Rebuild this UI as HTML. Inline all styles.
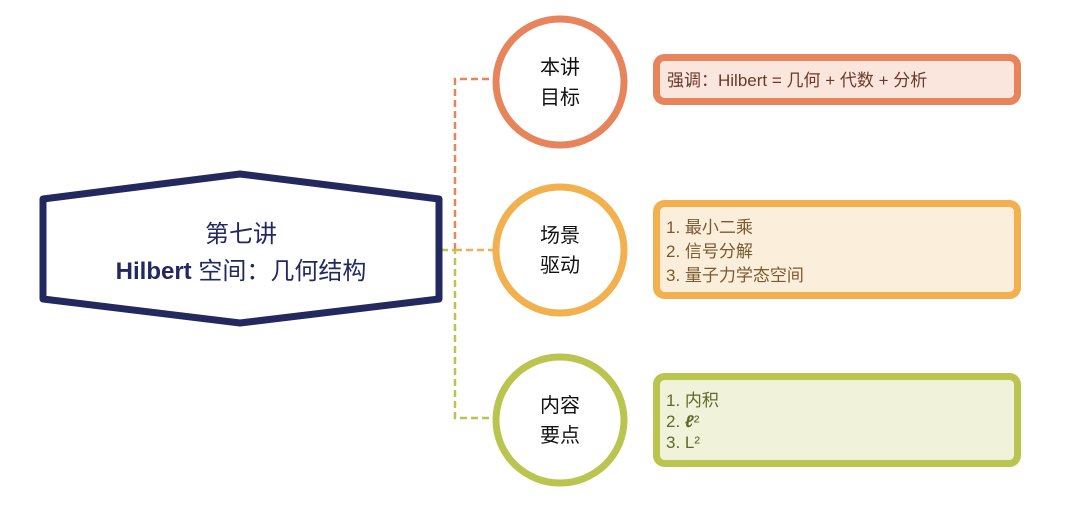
<!DOCTYPE html>
<html><head><meta charset="utf-8"><style>
body{margin:0;width:1080px;height:502px;background:#fff;overflow:hidden}
svg text{font-family:"Liberation Sans","Noto Sans CJK SC",sans-serif}
</style></head><body>
<svg width="1080" height="502" viewBox="0 0 1080 502">
<g fill="none" stroke-width="2.5" stroke-dasharray="7,4">
<path d="M455 250 V79 H494" stroke="#e8845c"/>
<path d="M455 250 H494" stroke="#f2b04e"/>
<path d="M441 250 H455 V418 H494" stroke="#b9c54f"/>
</g>
<polygon points="43,199 240,174 439,199 439,299 240,323 43,299" fill="#fff" stroke="#23285f" stroke-width="7" stroke-linejoin="round"/>
<text x="241" y="242" text-anchor="middle" font-size="24" fill="#23285f">第七讲</text>
<text x="241" y="279" text-anchor="middle" font-size="24" fill="#23285f"><tspan font-weight="bold">Hilbert</tspan> 空间：几何结构</text>
<ellipse cx="560" cy="82" rx="64" ry="63" fill="#fff" stroke="#e8845c" stroke-width="7"/>
<ellipse cx="560" cy="250" rx="64" ry="63" fill="#fff" stroke="#f2b04e" stroke-width="7"/>
<ellipse cx="560" cy="420" rx="64" ry="63" fill="#fff" stroke="#b9c54f" stroke-width="7"/>
<g font-size="20" fill="#111" text-anchor="middle">
<text x="560" y="74">本讲</text><text x="560" y="104">目标</text>
<text x="560" y="242">场景</text><text x="560" y="272">驱动</text>
<text x="560" y="412">内容</text><text x="560" y="442">要点</text>
</g>
<rect x="656.5" y="57.5" width="361" height="44" rx="8" fill="#fae6dd" stroke="#e8845c" stroke-width="7"/>
<rect x="656.5" y="203.5" width="361" height="92" rx="8" fill="#fbeedb" stroke="#f2b04e" stroke-width="7"/>
<rect x="656.5" y="376.5" width="361" height="87" rx="8" fill="#f0f3da" stroke="#b9c54f" stroke-width="7"/>
<text x="667" y="86" font-size="17" fill="#6b3a2a">强调：<tspan>Hilbert = 几何 + 代数 + 分析</tspan></text>
<g font-size="17" fill="#7a5a30">
<text x="666" y="233">1. 最小二乘</text>
<text x="666" y="257">2. 信号分解</text>
<text x="666" y="281">3. 量子力学态空间</text>
</g>
<g font-size="17" fill="#5f6a2a">
<text x="666" y="406">1. 内积</text>
<text x="666" y="427">2. <tspan font-style="italic" font-weight="bold">ℓ</tspan>²</text>
<text x="666" y="448">3. L²</text>
</g>
</svg>
</body></html>
